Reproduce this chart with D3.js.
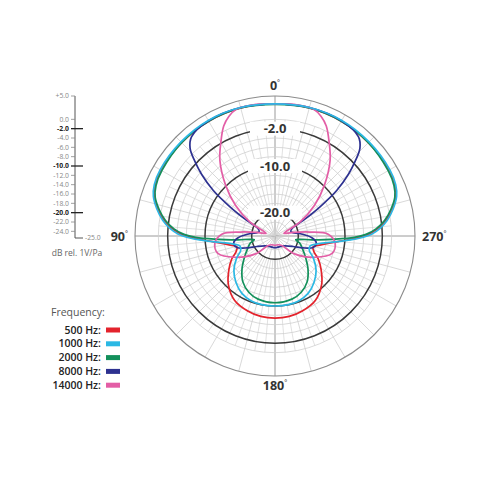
<!DOCTYPE html>
<html>
<head>
<meta charset="utf-8">
<script src="https://cdnjs.cloudflare.com/ajax/libs/d3/7.8.5/d3.min.js"></script>
<style>
  body { margin: 0; background: #fff; }
  svg { font-family: "Open Sans", "Liberation Sans", sans-serif; }
</style>
</head>
<body>
<div id="chart"></div>
<script>
const WIDTH = 480;
const HEIGHT = 480;
const CENTER = { X: 275, Y: 236 };
const RADIUS = 140;

// level scale, dB rel. 1V/Pa
const scaleTicks = [5, 0, -2, -4, -6, -8, -10, -12, -14, -16, -18, -20, -22, -24];
const majorTicks = [-2, -10, -20];
const gridRings = [0, -2, -4, -6, -8, -10, -12, -14, -16, -18, -20, -22, -24];
const angleLabels = [
  { deg: 0, text: "0" },
  { deg: 90, text: "90" },
  { deg: 180, text: "180" },
  { deg: 270, text: "270" }
];

const frequencies = ["500 Hz:", "1000 Hz:", "2000 Hz:", "8000 Hz:", "14000 Hz:"];
const colors = ["#e3232c", "#2bb8e4", "#13905b", "#2d3190", "#e35ea6"];

// half pattern (0° -> 180° through 90°), the mic is symmetric
const angles500 = [0, 15, 30, 45, 60, 67, 72, 77, 82, 86, 89, 91.5, 94, 97, 101, 106, 112, 118, 126, 136, 148, 160, 170, 180];
const db500 = [3.3, 3.4, 3.4, 3.3, 3.2, 2.9, 2.2, 0.8, -1.0, -3, -5, -7.5, -10.5, -13, -15, -16.5, -16, -14.5, -12.8, -10.6, -8.7, -7.9, -7.5, -7.4];

const angles1000 = [0, 15, 30, 45, 60, 67, 72, 77, 82, 86, 89, 91, 93, 96, 100, 106, 113, 120, 130, 140, 150, 160, 170, 180];
const db1000 = [3.3, 3.5, 3.6, 3.5, 3.4, 3.1, 2.4, 1.0, -0.7, -2.5, -4.3, -6.3, -8.8, -12.5, -15.5, -17.2, -17, -15.5, -13.5, -12, -10.8, -10.2, -10, -10];

const angles2000 = [0, 15, 30, 45, 60, 67, 72, 77, 82, 86, 89, 91, 93, 96, 100, 106, 115, 125, 135, 145, 155, 165, 180];
const db2000 = [3.2, 3.4, 3.4, 3.3, 3.0, 2.7, 2.0, 0.5, -1.3, -3.3, -5.5, -8, -12, -17, -20.5, -19.5, -18.5, -17, -15, -13, -11.7, -11, -10.7];

const angles8000 = [0, 15, 30, 40, 44, 47, 50, 53.5, 57, 61, 66, 75, 85, 93, 100, 107, 113, 120, 135, 155, 180];
const db8000 = [3.3, 3.5, 3.5, 2.8, 1.2, -1.5, -4.5, -8.5, -13.5, -18, -21, -21.5, -19.5, -17, -16, -16.5, -18.5, -20.5, -22, -22.5, -22.5];

const angles14000 = [0, 10, 17, 21, 25, 30, 36, 44, 52, 61, 68, 74, 79, 83.5, 88, 97, 107, 118, 132, 145, 160, 180];
const db14000 = [3.3, 3.5, 3.4, 2.5, 1.0, -1.8, -4.9, -9.7, -14.2, -18.9, -22.5, -23, -21, -17.5, -13.6, -12, -12.2, -15.3, -19.2, -22.5, -23, -23];

const series = [
  { name: frequencies[0], color: colors[0], angles: angles500, db: db500 },
  { name: frequencies[1], color: colors[1], angles: angles1000, db: db1000 },
  { name: frequencies[2], color: colors[2], angles: angles2000, db: db2000 },
  { name: frequencies[3], color: colors[3], angles: angles8000, db: db8000 },
  { name: frequencies[4], color: colors[4], angles: angles14000, db: db14000 }
];
// drawing order: cyan on top
const drawOrder = [0, 2, 3, 4, 1];

const rScale = d3.scaleLinear().domain([-25, 5]).range([0, RADIUS]);
const yScale = d3.scaleLinear().domain([-25, 5]).range([CENTER.Y, CENTER.Y - RADIUS]);
const toRad = d => (d * Math.PI) / 180;

const svg = d3
  .select("#chart")
  .append("svg")
  .attr("width", WIDTH)
  .attr("height", HEIGHT);

const polar = svg
  .append("g")
  .attr("transform", `translate(${CENTER.X}, ${CENTER.Y})`);

// spokes: fine ones inside, every 15 deg across the whole circle
const fineSpokes = d3.range(0, 360, 5).filter(d => d % 15 !== 0);
polar
  .selectAll("line.fine")
  .data(fineSpokes)
  .enter()
  .append("line")
  .attr("class", "fine")
  .attr("x1", d => rScale(-20) * Math.sin(toRad(d)))
  .attr("y1", d => -rScale(-20) * Math.cos(toRad(d)))
  .attr("x2", d => rScale(0) * Math.sin(toRad(d)))
  .attr("y2", d => -rScale(0) * Math.cos(toRad(d)))
  .attr("stroke", "#d4d4d4")
  .attr("stroke-width", 0.7);

polar
  .selectAll("line.spoke")
  .data(d3.range(0, 360, 15))
  .enter()
  .append("line")
  .attr("class", "spoke")
  .attr("x1", 0)
  .attr("y1", 0)
  .attr("x2", d => RADIUS * Math.sin(toRad(d)))
  .attr("y2", d => -RADIUS * Math.cos(toRad(d)))
  .attr("stroke", d => (d % 90 === 0 ? "#9a9a9a" : "#cfcfcf"))
  .attr("stroke-width", d => (d % 90 === 0 ? 1 : 0.8));

polar
  .selectAll("circle.ring")
  .data(gridRings.filter(d => majorTicks.indexOf(d) < 0))
  .enter()
  .append("circle")
  .attr("class", "ring")
  .attr("r", d => rScale(d))
  .attr("fill", "none")
  .attr("stroke", "#cfcfcf")
  .attr("stroke-width", 0.8);

polar
  .append("circle")
  .attr("r", RADIUS)
  .attr("fill", "none")
  .attr("stroke", "#8c8c8c")
  .attr("stroke-width", 1.1);

polar
  .selectAll("circle.major")
  .data(majorTicks)
  .enter()
  .append("circle")
  .attr("class", "major")
  .attr("r", d => rScale(d))
  .attr("fill", "none")
  .attr("stroke", "#3a3a3a")
  .attr("stroke-width", 1.5);

// white boxes behind ring labels
polar
  .selectAll("rect.lbl")
  .data(majorTicks)
  .enter()
  .append("rect")
  .attr("class", "lbl")
  .attr("x", d => (d === -2 ? -25 : -27))
  .attr("y", d => -rScale(d) - 7)
  .attr("width", d => (d === -2 ? 50 : 54))
  .attr("height", 14)
  .attr("fill", "#fff");

const line = d3
  .lineRadial()
  .angle(d => -toRad(d.a))
  .radius(d => rScale(d.db))
  .curve(d3.curveCatmullRomClosed.alpha(0.5));

function fullPattern(s) {
  const half = s.angles.map((a, i) => ({ a: a, db: s.db[i] }));
  const other = half
    .filter(d => d.a > 0 && d.a < 180)
    .map(d => ({ a: 360 - d.a, db: d.db }))
    .reverse();
  return half.concat(other);
}

polar
  .selectAll("path.pattern")
  .data(drawOrder.map(i => series[i]))
  .enter()
  .append("path")
  .attr("class", "pattern")
  .attr("d", d => line(fullPattern(d)))
  .attr("fill", "none")
  .attr("stroke", d => d.color)
  .attr("stroke-width", 1.7);

polar
  .selectAll("text.ringlabel")
  .data(majorTicks)
  .enter()
  .append("text")
  .attr("class", "ringlabel")
  .attr("x", 0)
  .attr("y", d => -rScale(d))
  .attr("dy", "0.36em")
  .attr("text-anchor", "middle")
  .attr("font-size", 13)
  .attr("font-weight", 700)
  .attr("fill", "#333")
  .text(d => d.toFixed(1));

// angle labels
const angText = polar
  .selectAll("text.ang")
  .data(angleLabels)
  .enter()
  .append("text")
  .attr("class", "ang")
  .attr("x", d => (d.deg === 90 ? -RADIUS - 7 : d.deg === 270 ? RADIUS + 7 : 0))
  .attr("y", d => (d.deg === 0 ? -RADIUS - 6 : d.deg === 180 ? RADIUS + 14 : 5))
  .attr("text-anchor", d => (d.deg === 90 ? "end" : d.deg === 270 ? "start" : "middle"))
  .attr("font-size", 12.5)
  .attr("font-weight", 700)
  .attr("fill", "#333");
angText.append("tspan").text(d => d.text);
angText
  .append("tspan")
  .attr("font-size", 7)
  .attr("font-weight", 400)
  .attr("dy", -5)
  .text("°");

// level scale on the left
const AXIS_X = 75;
const scaleG = svg.append("g");
const fmt = d => (d > 0 ? "+" : "") + d.toFixed(1);

scaleG
  .append("path")
  .attr("d", `M${AXIS_X},${yScale(5)}V${yScale(-25) + 2}H${AXIS_X + 8}`)
  .attr("fill", "none")
  .attr("stroke", "#555")
  .attr("stroke-width", 1);

scaleG
  .selectAll("line.tick")
  .data(scaleTicks)
  .enter()
  .append("line")
  .attr("class", "tick")
  .attr("x1", AXIS_X - 4)
  .attr("x2", d => (majorTicks.indexOf(d) >= 0 ? AXIS_X + 8 : AXIS_X))
  .attr("y1", d => yScale(d))
  .attr("y2", d => yScale(d))
  .attr("stroke", d => (majorTicks.indexOf(d) >= 0 ? "#222" : "#888"))
  .attr("stroke-width", d => (majorTicks.indexOf(d) >= 0 ? 1.3 : 0.8));

scaleG
  .selectAll("text.tick")
  .data(scaleTicks)
  .enter()
  .append("text")
  .attr("class", "tick")
  .attr("x", AXIS_X - 6)
  .attr("y", d => yScale(d))
  .attr("dy", "0.35em")
  .attr("text-anchor", "end")
  .attr("font-size", 6.8)
  .attr("font-weight", d => (majorTicks.indexOf(d) >= 0 ? 700 : 400))
  .attr("fill", d => (majorTicks.indexOf(d) >= 0 ? "#222" : "#888"))
  .text(fmt);

scaleG
  .append("text")
  .attr("x", AXIS_X + 10)
  .attr("y", yScale(-25) + 2)
  .attr("dy", "0.35em")
  .attr("font-size", 6.8)
  .attr("fill", "#888")
  .text(fmt(-25));

scaleG
  .append("text")
  .attr("x", 77)
  .attr("y", 256)
  .attr("text-anchor", "middle")
  .attr("font-size", 8.5)
  .attr("fill", "#666")
  .text("dB rel. 1V/Pa");

// legend
const legend = svg.append("g");
legend
  .append("text")
  .attr("x", 51)
  .attr("y", 316)
  .attr("font-size", 10.5)
  .attr("fill", "#555")
  .text("Frequency:");

const rows = legend
  .selectAll("g.row")
  .data(series)
  .enter()
  .append("g")
  .attr("class", "row")
  .attr("transform", (d, i) => `translate(0, ${330 + i * 13.8})`);

rows
  .append("text")
  .attr("x", 101)
  .attr("dy", "0.35em")
  .attr("text-anchor", "end")
  .attr("font-size", 10.5)
  .attr("font-weight", 600)
  .attr("fill", "#222")
  .text(d => d.name);

rows
  .append("rect")
  .attr("x", 106)
  .attr("y", -2.5)
  .attr("width", 14)
  .attr("height", 5)
  .attr("fill", d => d.color);
</script>
</body>
</html>
